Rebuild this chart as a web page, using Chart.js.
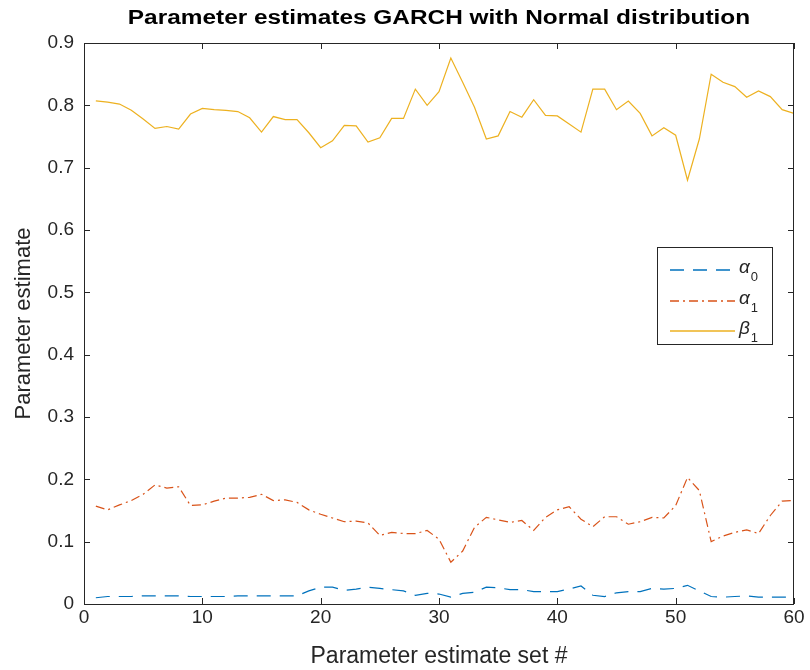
<!DOCTYPE html>
<html>
<head>
<meta charset="utf-8">
<script src="https://cdn.jsdelivr.net/npm/chart.js@4/dist/chart.umd.min.js"></script>
<style>
  html, body { margin: 0; padding: 0; background: #fff; }
  #wrap { width: 810px; height: 670px; }
</style>
</head>
<body>
<div id="wrap"><canvas id="garchChart" width="810" height="670"></canvas></div>
<script>
// Parameter estimate set numbers
const sets = [
  1, 2, 3, 4, 5, 6, 7, 8, 9, 10,
  11, 12, 13, 14, 15, 16, 17, 18, 19, 20,
  21, 22, 23, 24, 25, 26, 27, 28, 29, 30,
  31, 32, 33, 34, 35, 36, 37, 38, 39, 40,
  41, 42, 43, 44, 45, 46, 47, 48, 49, 50,
  51, 52, 53, 54, 55, 56, 57, 58, 59, 60
];

// alpha_0 estimates
const alpha0 = [
  0.010, 0.012, 0.012, 0.012, 0.013, 0.013, 0.013, 0.013, 0.012, 0.012,
  0.012, 0.012, 0.013, 0.013, 0.013, 0.013, 0.013, 0.013, 0.021, 0.027,
  0.027, 0.022, 0.024, 0.027, 0.025, 0.023, 0.021, 0.014, 0.017, 0.016,
  0.011, 0.017, 0.019, 0.027, 0.026, 0.023, 0.023, 0.020, 0.020, 0.020,
  0.024, 0.029, 0.014, 0.012, 0.018, 0.020, 0.020, 0.025, 0.024, 0.025,
  0.030, 0.021, 0.012, 0.011, 0.012, 0.013, 0.011, 0.011, 0.011, 0.011
];

// alpha_1 estimates
const alpha1 = [
  0.157, 0.151, 0.159, 0.166, 0.176, 0.191, 0.186, 0.188, 0.158, 0.159,
  0.165, 0.170, 0.170, 0.171, 0.176, 0.166, 0.167, 0.163, 0.151, 0.144,
  0.138, 0.132, 0.133, 0.130, 0.110, 0.115, 0.113, 0.113, 0.118, 0.104,
  0.067, 0.085, 0.123, 0.139, 0.135, 0.131, 0.134, 0.118, 0.139, 0.151,
  0.156, 0.136, 0.124, 0.140, 0.140, 0.128, 0.132, 0.139, 0.138, 0.158,
  0.203, 0.182, 0.100, 0.109, 0.115, 0.119, 0.113, 0.142, 0.165, 0.166
];

// beta_1 estimates
const beta1 = [
  0.807, 0.805, 0.802, 0.792, 0.778, 0.763, 0.766, 0.762, 0.786, 0.795,
  0.793, 0.792, 0.790, 0.780, 0.757, 0.782, 0.777, 0.777, 0.756, 0.732,
  0.743, 0.768, 0.767, 0.741, 0.748, 0.779, 0.779, 0.826, 0.800, 0.822,
  0.876, 0.837, 0.797, 0.746, 0.751, 0.790, 0.781, 0.809, 0.784, 0.783,
  0.770, 0.757, 0.826, 0.826, 0.793, 0.807, 0.787, 0.751, 0.764, 0.752,
  0.680, 0.746, 0.850, 0.837, 0.830, 0.813, 0.823, 0.814, 0.793, 0.787
];

// Axis ticks
const xTicks = [0, 10, 20, 30, 40, 50, 60];
const yTicks = [0, 0.1, 0.2, 0.3, 0.4, 0.5, 0.6, 0.7, 0.8, 0.9];

const FONT = "'Liberation Sans', Arial, Helvetica, sans-serif";
const INK = '#262626';
const series = [
  { sym: '\u03b1', sub: '0', data: alpha0, color: '#0072BD', dash: [14, 9] },
  { sym: '\u03b1', sub: '1', data: alpha1, color: '#D95319', dash: [9, 4, 2, 4] },
  { sym: '\u03b2', sub: '1', data: beta1, color: '#EDB120', dash: [] }
];

// Frame, inward ticks on all sides, title and legend (MATLAB look)
const matlabFrame = {
  id: 'matlabFrame',
  afterDraw(chart) {
    const { ctx, chartArea: a, scales } = chart;
    const tl = 6;
    ctx.save();
    ctx.strokeStyle = INK;
    ctx.lineWidth = 1;
    ctx.setLineDash([]);
    ctx.strokeRect(a.left + 0.5, a.top + 0.5, a.right - a.left - 1, a.bottom - a.top);
    ctx.beginPath();
    xTicks.forEach(v => {
      const px = Math.round(scales.x.getPixelForValue(v)) + 0.5;
      ctx.moveTo(px, a.bottom); ctx.lineTo(px, a.bottom - tl);
      ctx.moveTo(px, a.top); ctx.lineTo(px, a.top + tl);
    });
    yTicks.forEach(v => {
      const py = Math.round(scales.y.getPixelForValue(v)) + 0.5;
      ctx.moveTo(a.left, py); ctx.lineTo(a.left + tl, py);
      ctx.moveTo(a.right, py); ctx.lineTo(a.right - tl, py);
    });
    ctx.stroke();

    // title, stretched a little to match the wide MATLAB export
    ctx.save();
    ctx.fillStyle = '#000';
    ctx.font = 'bold 20px ' + FONT;
    ctx.textAlign = 'center';
    ctx.textBaseline = 'middle';
    ctx.translate((a.left + a.right) / 2, 18);
    ctx.scale(1.22, 1);
    ctx.fillText('Parameter estimates GARCH with Normal distribution', 0, 0);
    ctx.restore();

    // legend
    const bx = 657, by = 247, bw = 115, bh = 97;
    ctx.fillStyle = '#fff';
    ctx.fillRect(bx, by, bw, bh);
    ctx.strokeStyle = INK;
    ctx.lineWidth = 1;
    ctx.strokeRect(bx + 0.5, by + 0.5, bw, bh);
    const rows = [270, 301, 331];
    series.forEach((s, i) => {
      const y = rows[i];
      ctx.beginPath();
      ctx.strokeStyle = s.color;
      ctx.lineWidth = 1.5;
      ctx.setLineDash(s.dash);
      ctx.moveTo(670, y);
      ctx.lineTo(735, y);
      ctx.stroke();
      ctx.setLineDash([]);
      ctx.fillStyle = INK;
      ctx.textAlign = 'left';
      ctx.textBaseline = 'middle';
      ctx.font = 'italic 19px ' + FONT;
      ctx.fillText(s.sym, 739, y - 2);
      const w = ctx.measureText(s.sym).width;
      ctx.font = '13px ' + FONT;
      ctx.fillText(s.sub, 739 + w + 1, y + 7);
    });
    ctx.restore();
  }
};

const ctx = document.getElementById('garchChart').getContext('2d');
new Chart(ctx, {
  type: 'line',
  data: {
    datasets: series.map(s => ({
      label: s.sym + s.sub,
      data: sets.map((x, i) => ({ x: x, y: s.data[i] })),
      borderColor: s.color,
      borderWidth: 1.2,
      borderDash: s.dash,
      pointRadius: 0,
      tension: 0,
      fill: false
    }))
  },
  options: {
    responsive: false,
    animation: false,
    layout: { padding: { top: 43, right: 16, left: 0, bottom: 0 } },
    plugins: {
      legend: { display: false },
      title: { display: false },
      tooltip: { enabled: false }
    },
    scales: {
      x: {
        type: 'linear',
        min: 0,
        max: 60,
        afterFit: scale => { scale.height = 66; },
        afterBuildTicks: scale => { scale.ticks = xTicks.map(v => ({ value: v })); },
        grid: { display: false, drawTicks: false },
        border: { display: false },
        ticks: { color: INK, font: { family: FONT, size: 19 }, padding: 2, maxRotation: 0 },
        title: { display: true, text: 'Parameter estimate set #', color: INK, font: { family: FONT, size: 23 }, padding: { top: 14, bottom: 0 } }
      },
      y: {
        min: 0,
        max: 0.9,
        afterFit: scale => { scale.width = 84; },
        afterBuildTicks: scale => { scale.ticks = yTicks.map(v => ({ value: v })); },
        grid: { display: false, drawTicks: false },
        border: { display: false },
        ticks: {
          color: INK,
          font: { family: FONT, size: 19 },
          padding: 10,
          callback: v => (v === 0 ? '0' : v.toFixed(1))
        },
        title: { display: true, text: 'Parameter estimate', color: INK, font: { family: FONT, size: 22 }, padding: { top: 11, bottom: 0 } }
      }
    }
  },
  plugins: [matlabFrame]
});
</script>
</body>
</html>
